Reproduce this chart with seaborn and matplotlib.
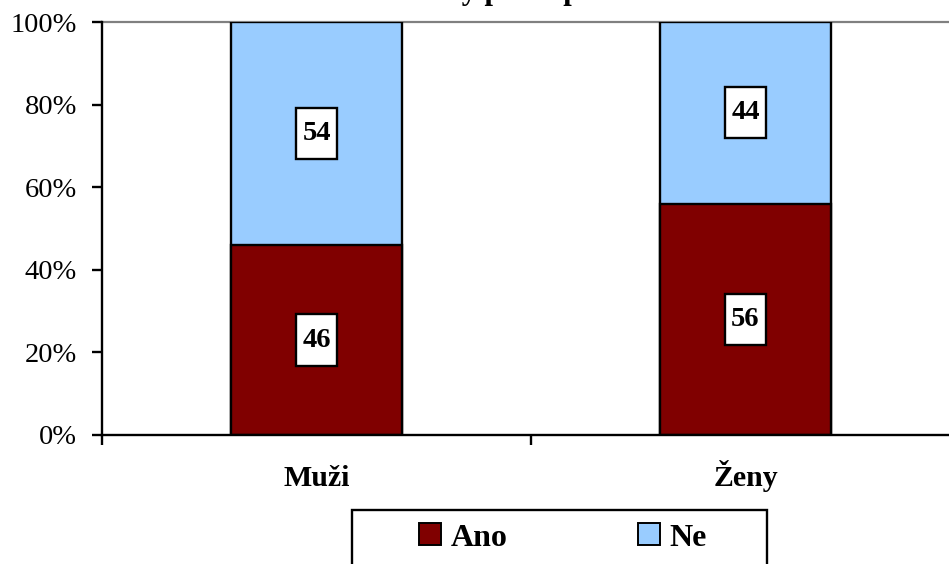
import matplotlib
matplotlib.use("Agg")
import matplotlib.pyplot as plt
from matplotlib.patches import Patch, Rectangle
from matplotlib.path import Path
import pandas as pd
import seaborn as sns

# Survey answers by gender (percent of respondents)
groups = ["Muži", "Ženy"]
ano = [46, 56]
ne = [54, 44]
series_names = ["Ano", "Ne"]
y_ticks = [0, 20, 40, 60, 80, 100]
y_tick_labels = ["0%", "20%", "40%", "60%", "80%", "100%"]
title = "Názory podle pohlaví"

color_ano = "#800000"
color_ne = "#99CCFF"

sns.set_style("white")
plt.rcParams["font.family"] = ["Liberation Serif", "DejaVu Serif"]
plt.rcParams["text.color"] = "black"
plt.rcParams["xtick.color"] = "black"
plt.rcParams["ytick.color"] = "black"

df = pd.DataFrame({"skupina": groups, "Ano": ano, "Ne": ne})
df["celkem"] = df["Ano"] + df["Ne"]

fig = plt.figure(figsize=(9.49, 5.64), dpi=100)
ax = fig.add_axes([102 / 949, 129 / 564, 858 / 949, 413 / 564])

# Stacked bars: full height in blue, the "Ano" share drawn over it in red
sns.barplot(data=df, x="skupina", y="celkem", order=groups, color=color_ne,
            saturation=1, width=0.4, edgecolor="black", linewidth=1.7,
            ax=ax, zorder=3)
sns.barplot(data=df, x="skupina", y="Ano", order=groups, color=color_ano,
            saturation=1, width=0.4, edgecolor="black", linewidth=1.7,
            ax=ax, zorder=3)

ax.set_xlim(-0.5, 1.5)
ax.set_ylim(0, 100)
ax.set_xlabel("")
ax.set_ylabel("")


def label_box(x0, y0, width, height, mutation_size):
    """Rectangular box, taller than wide padding, around a value label."""
    px = 0.23 * mutation_size
    py = 0.46 * mutation_size
    x0, y0 = x0 - px, y0 - py
    x1, y1 = x0 + width + 2 * px, y0 + height + 2 * py
    return Path([(x0, y0), (x1, y0), (x1, y1), (x0, y1), (x0, y0)],
                closed=True)


box = dict(boxstyle=label_box, facecolor="white", edgecolor="black",
           linewidth=1.7)
for i, (a, n) in enumerate(zip(ano, ne)):
    ax.text(i, a / 2, f"{a}", ha="center", va="center", fontsize=20.5,
            fontweight="bold", bbox=box, zorder=5)
    ax.text(i, a + n / 2, f"{n}", ha="center", va="center", fontsize=20.5,
            fontweight="bold", bbox=box, zorder=5)

# Y axis
ax.set_yticks(y_ticks)
ax.set_yticklabels(y_tick_labels, fontsize=20.5)
ax.tick_params(axis="y", direction="out", length=7, width=1.7, pad=11,
               left=True)

# X axis: tick marks on category boundaries, labels at category centres
ax.set_xticks([-0.5, 0.5, 1.5])
ax.set_xticklabels(["", "", ""])
ax.set_xticks([0, 1], minor=True)
ax.set_xticklabels(groups, minor=True, fontsize=21.5, fontweight="bold",
                   va="baseline")
ax.tick_params(axis="x", which="major", direction="out", length=7,
               width=1.7, bottom=True)
ax.tick_params(axis="x", which="minor", length=0, pad=36.5)

for side in ["left", "bottom"]:
    ax.spines[side].set_color("black")
    ax.spines[side].set_linewidth(1.7)
    ax.spines[side].set_zorder(4)
ax.spines["top"].set_color("#808080")
ax.spines["top"].set_linewidth(1.6)
ax.spines["top"].set_zorder(1)
ax.spines["right"].set_visible(False)

# Title
fig.text(521 / 949, 1 + 1 / 564, title, ha="center", va="baseline",
         fontsize=22, fontweight="bold")

# Legend
handles = [Patch(facecolor=color_ano, edgecolor="black", linewidth=1.4),
           Patch(facecolor=color_ne, edgecolor="black", linewidth=1.4)]
leg = fig.legend(handles, series_names, loc="center left",
                 bbox_to_anchor=(419 / 949, 1 - 538 / 564), ncol=2,
                 frameon=False, borderpad=0, borderaxespad=0,
                 handlelength=0.68, handleheight=0.68, handletextpad=0.3,
                 columnspacing=4.1, prop={"size": 23, "weight": "bold"})
fig.add_artist(Rectangle((352 / 949, -0.1), (767 - 352) / 949,
                         (564 - 510) / 564 + 0.1, transform=fig.transFigure,
                         fill=False, edgecolor="black", linewidth=1.7))

fig.savefig("out.png", dpi=100)
